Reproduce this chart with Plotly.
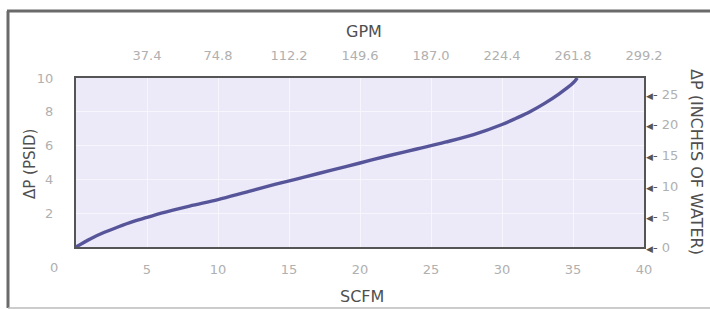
import plotly.graph_objects as go

scfm = [0, 1, 2, 3, 4, 5, 6, 8, 10, 12, 14, 16, 18, 20, 22, 24, 26, 28, 30, 31, 32, 33, 34, 35, 35.3]
psid = [0, 0.48, 0.87, 1.2, 1.5, 1.75, 2.0, 2.42, 2.8, 3.25, 3.7, 4.12, 4.55, 4.97, 5.4, 5.8, 6.2, 6.65, 7.25, 7.62, 8.02, 8.5, 9.05, 9.7, 10.0]

scfm_ticks = [5, 10, 15, 20, 25, 30, 35, 40]
gpm_labels = ["37.4", "74.8", "112.2", "149.6", "187.0", "224.4", "261.8", "299.2"]
psid_ticks = [2, 4, 6, 8, 10]
inh2o_ticks = [0, 5, 10, 15, 20, 25]
INH2O_PER_PSI = 2.768

FONT = "DejaVu Sans"
TFONT = "DejaVu Sans"
TICK_C = "#b0b0b0"
TITLE_C = "#4f4f4f"

W, H = 710, 309
L, R, T, B = 76, 66, 78, 62
pw, ph = W - L - R, H - T - B


def px(x):
    return (x - L) / pw


def py(y):
    return (H - B - y) / ph


fig = go.Figure()
fig.add_trace(go.Scatter(x=scfm, y=psid, mode="lines", line=dict(color="#57559a", width=3.4, shape="spline"),
                         hoverinfo="skip", showlegend=False))
fig.add_trace(go.Scatter(x=[0, 40], y=[0, 10 * INH2O_PER_PSI], xaxis="x2", yaxis="y2", mode="markers",
                         marker=dict(opacity=0), showlegend=False, hoverinfo="skip"))

fig.update_layout(
    width=W, height=H,
    margin=dict(l=L, r=R, t=T, b=B),
    paper_bgcolor="white",
    plot_bgcolor="#ece9f8",
    font=dict(family=FONT, color=TICK_C, size=12),
    xaxis=dict(range=[0, 40], tickvals=scfm_ticks, showgrid=True, gridcolor="#f7f6fc", gridwidth=1,
               zeroline=False, showline=True, linecolor="#555555", linewidth=2, mirror=True,
               ticks="", ticklabelstandoff=9, tickfont=dict(size=13, color=TICK_C)),
    xaxis2=dict(range=[0, 40], overlaying="x", side="top", tickvals=scfm_ticks, ticktext=gpm_labels,
                showgrid=False, zeroline=False, ticks="", ticklabelstandoff=14,
                tickfont=dict(size=13, color=TICK_C)),
    yaxis=dict(range=[0, 10], tickvals=psid_ticks, showgrid=True, gridcolor="#f7f6fc", gridwidth=1,
               zeroline=False, showline=True, linecolor="#555555", linewidth=2, mirror=True,
               ticks="", ticklabelstandoff=18, tickfont=dict(size=13, color=TICK_C)),
    yaxis2=dict(range=[0, 10 * INH2O_PER_PSI], overlaying="y", side="right", tickvals=inh2o_ticks,
                ticktext=["<span style='color:#555555;font-size:9px'>◀</span><span style='color:#555555'>-</span> " + str(v)
                          for v in inh2o_ticks],
                showgrid=False, zeroline=False, ticks="", ticklabelstandoff=1,
                tickfont=dict(size=13, color=TICK_C)),
)

ann_common = dict(xref="paper", yref="paper", showarrow=False, xanchor="center", yanchor="middle")
fig.add_annotation(text="GPM", x=px(364), y=py(32), font=dict(size=16, color=TITLE_C, family=TFONT), **ann_common)
fig.add_annotation(text="SCFM", x=px(362), y=py(296), font=dict(size=16, color=TITLE_C, family=TFONT), **ann_common)
fig.add_annotation(text="ΔP (PSID)", x=px(30), y=py(164), textangle=-90,
                   font=dict(size=15, color=TITLE_C, family=TFONT), **ann_common)
fig.add_annotation(text="ΔP (INCHES OF WATER)", x=px(697), y=py(162), textangle=90,
                   font=dict(size=16, color=TITLE_C, family=TFONT), **ann_common)
fig.add_annotation(text="0", x=px(54), y=py(267), font=dict(size=13, color=TICK_C, family=FONT), **ann_common)

# outer frame (scan border)
frame = dict(color="#6a6a6a", width=3)
fig.add_shape(type="line", xref="paper", yref="paper", x0=px(7), x1=px(712), y0=py(11), y1=py(11), line=frame)
fig.add_shape(type="line", xref="paper", yref="paper", x0=px(8), x1=px(8), y0=py(11), y1=py(308), line=frame)
fig.add_shape(type="line", xref="paper", yref="paper", x0=px(8), x1=px(712), y0=py(308), y1=py(308),
              line=dict(color="#bbbbbb", width=1.5))

fig.write_html("out.html", config={"displayModeBar": False},
               post_script="document.body.style.margin='0px';")
